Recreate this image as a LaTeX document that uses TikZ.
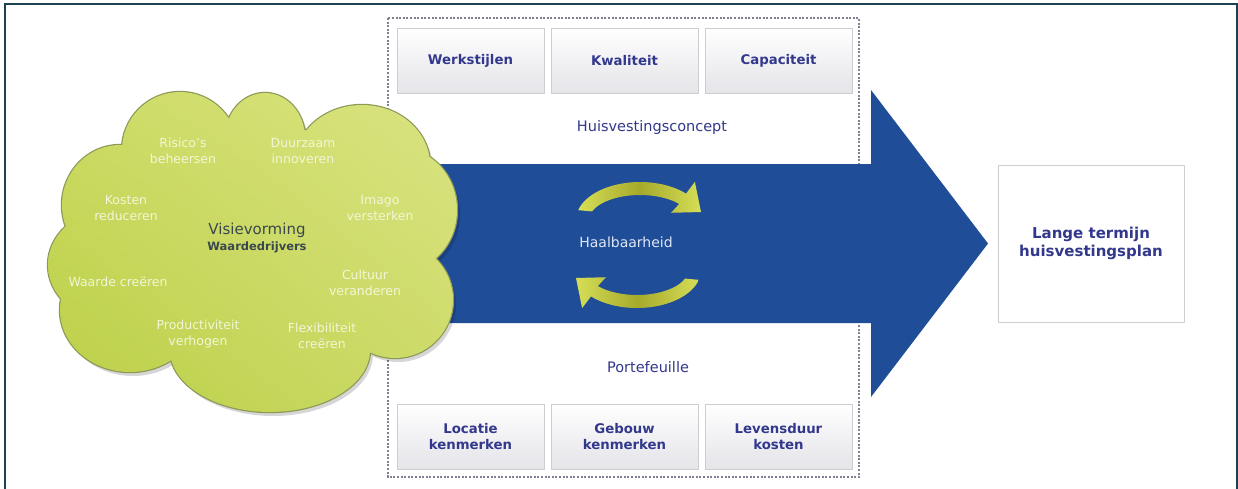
\documentclass[tikz,border=0pt]{standalone}
\usepackage{fontspec}
\setmainfont{DejaVu Sans}
\usetikzlibrary{shadings}

\definecolor{navy}{RGB}{50,56,140}
\definecolor{arrowblue}{RGB}{31,77,152}
\definecolor{cloudUL}{RGB}{204,219,100}
\definecolor{cloudUR}{RGB}{220,228,132}
\definecolor{cloudLL}{RGB}{186,206,68}
\definecolor{cloudLR}{RGB}{204,218,104}
\definecolor{cloudedge}{RGB}{140,152,88}
\definecolor{framecol}{RGB}{28,66,82}
\definecolor{boxedge}{RGB}{205,205,212}
\definecolor{boxbottom}{RGB}{228,228,233}
\definecolor{dashcol}{RGB}{128,128,148}
\definecolor{cyclelight}{RGB}{214,222,86}
\definecolor{cycledark}{RGB}{166,170,44}
\definecolor{cloudtext}{RGB}{242,246,214}
\definecolor{visiontext}{RGB}{58,72,78}
\definecolor{feasible}{RGB}{222,230,246}

% lobes that together make up the cloud outline
\newcommand\cloudlobes{
  (180,150) ellipse[x radius=58, y radius=58]
  (265,138) ellipse[x radius=40, y radius=45]
  (362,165) ellipse[x radius=68, y radius=60]
  (400,210) ellipse[x radius=57, y radius=62]
  (395,300) ellipse[x radius=58, y radius=58]
  (270,350) ellipse[x radius=100, y radius=62]
  (130,310) ellipse[x radius=70, y radius=62]
  (110,265) ellipse[x radius=62, y radius=55]
  (120,205) ellipse[x radius=58, y radius=60]
  (258,250) ellipse[x radius=165, y radius=125]
}

% curved arrow of the feasibility cycle (upper half, tail left, head right)
\newcommand\cyclearrowpath{
  plot[domain=165:44, samples=40] ({640+64*cos(\x)},{220-38*sin(\x)})
  -- ({640+79*cos(46)},{220-53*sin(46)})
  -- (701,212)
  -- ({640+39*cos(37)},{220-12*sin(37)})
  -- plot[domain=40:160, samples=40] ({640+51*cos(\x)},{220-25*sin(\x)})
  -- cycle
}

\begin{document}
\begin{tikzpicture}[x=1pt, y=-1pt,
  factorbox/.style={draw=boxedge, line width=0.8pt, top color=white,
    bottom color=boxbottom, minimum width=147pt, minimum height=65pt,
    inner sep=2pt, align=center, text=navy,
    font=\fontsize{13.3}{16}\selectfont\bfseries},
  cloudlabel/.style={align=center, text=cloudtext, inner sep=0pt,
    font=\fontsize{12.5}{16}\selectfont},
  panellabel/.style={text=navy, inner sep=0pt,
    font=\fontsize{14.5}{17}\selectfont},
  cyclearrow/.style={left color=cyclelight, right color=cyclelight,
    middle color=cycledark},
]
\useasboundingbox (0,0) rectangle (1238,488);
\clip (0,0) rectangle (1238,488);

% outer frame
\draw[framecol, line width=2pt] (4.5,3.5) rectangle (1236.5,500);

% dotted panel holding the concept and portfolio factors
\draw[dashcol, line width=1.1pt, dash pattern=on 2pt off 1.6pt, fill=white]
  (388,18) rectangle (859,477);

\node[factorbox] (werk) at (470.5,60.5) {Werkstijlen};
\node[factorbox] (kwal) at (624.5,60.5) {Kwaliteit};
\node[factorbox] (capa) at (778.5,60.5) {Capaciteit};
\node[panellabel] (concept) at (652,127) {Huisvestingsconcept};

\node[panellabel] (portfolio) at (648,367) {Portefeuille};
\node[factorbox] (loca) at (470.5,436.5) {Locatie\\kenmerken};
\node[factorbox] (gebo) at (624.5,436.5) {Gebouw\\kenmerken};
\node[factorbox] (leve) at (778.5,436.5) {Levensduur\\kosten};

% big block arrow
\fill[arrowblue] (420,164) -- (871,164) -- (871,90) -- (988,243.5)
  -- (871,397) -- (871,323) -- (420,323) -- cycle;

% feasibility cycle
\shade[cyclearrow] \cyclearrowpath;
\begin{scope}[rotate around={180:(638.5,245)}]
  \shade[cyclearrow] \cyclearrowpath;
\end{scope}
\node[text=feasible, inner sep=0pt, font=\fontsize{14}{17}\selectfont]
  (feasibility) at (626,242) {Haalbaarheid};

% vision cloud
\begin{scope}[shift={(3,4)}]
  \fill[black, opacity=0.16] \cloudlobes;
\end{scope}
\draw[cloudedge, line width=2.4pt] \cloudlobes;
\begin{scope}
  \clip \cloudlobes;
  \shade[upper left=cloudUL, upper right=cloudUR, lower left=cloudLL,
    lower right=cloudLR] (40,80) rectangle (470,420);
\end{scope}

\node[cloudlabel] (risk) at (183,151) {Risico's\\beheersen};
\node[cloudlabel] (innov) at (303,151) {Duurzaam\\innoveren};
\node[cloudlabel] (cost) at (126,208) {Kosten\\reduceren};
\node[cloudlabel] (image) at (380,208) {Imago\\versterken};
\node[cloudlabel] (value) at (118,282) {Waarde creëren};
\node[cloudlabel] (culture) at (365,283) {Cultuur\\veranderen};
\node[cloudlabel] (product) at (198,334) {Productiviteit\\verhogen};
\node[cloudlabel] (flex) at (322,336) {Flexibiliteit\\creëren};
\node[text=visiontext, inner sep=0pt, font=\fontsize{15}{17}\selectfont]
  (vision) at (257,230) {Visievorming};
\node[text=visiontext, inner sep=0pt, font=\fontsize{11.5}{14}\selectfont\bfseries]
  (drivers) at (257,247) {Waardedrijvers};

% result
\node[draw=boxedge, line width=0.8pt, fill=white, minimum width=186pt,
  minimum height=157pt, align=center, text=navy,
  font=\fontsize{15}{18}\selectfont\bfseries]
  (plan) at (1091,243.5) {Lange termijn\\huisvestingsplan};
\end{tikzpicture}
\end{document}
